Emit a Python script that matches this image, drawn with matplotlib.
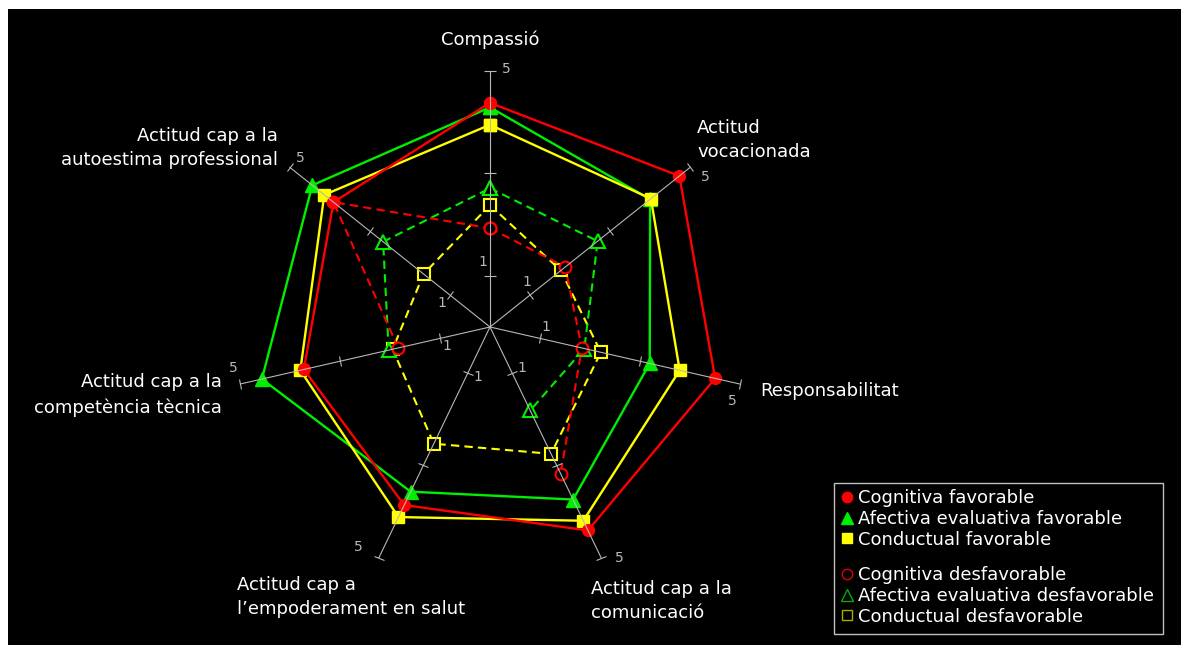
import numpy as np
import matplotlib
matplotlib.use("Agg")
import matplotlib.pyplot as plt
from matplotlib.lines import Line2D
from matplotlib.markers import MarkerStyle
from matplotlib.transforms import Affine2D
from matplotlib.patches import Rectangle

nan = np.nan

# ---------------- data ----------------
categories = [
    "Compassió",
    "Actitud\nvocacionada",
    "Responsabilitat",
    "Actitud cap a la\ncomunicació",
    "Actitud cap a\nl’empoderament en salut",
    "Actitud cap a la\ncompetència tècnica",
    "Actitud cap a la\nautoestima professional",
]

cognitiva_favorable = [4.38, 4.73, 4.51, 4.41, 3.86, 3.73, 3.91]
afectiva_favorable = [4.29, 4.00, 3.20, 3.74, 3.57, 4.57, 4.44]
conductual_favorable = [3.95, 4.02, 3.80, 4.20, 4.12, 3.80, 4.14]
cognitiva_desfavorable = [1.93, 1.88, 1.84, 3.18, nan, 1.84, 3.91]
afectiva_desfavorable = [2.71, 2.69, 1.89, 1.81, nan, 2.03, 2.67]
conductual_desfavorable = [2.38, 1.77, 2.22, 2.75, 2.53, 1.95, 1.66]

series_labels = [
    "Cognitiva favorable",
    "Afectiva evaluativa favorable",
    "Conductual favorable",
    "Cognitiva desfavorable",
    "Afectiva evaluativa desfavorable",
    "Conductual desfavorable",
]

axis_ticks = [1, 3, 5]
axis_tick_labels = ["1", "5"]
r_max = 5

# ---------------- styles / layout ----------------
W, H = 1181, 645
RED = "#ff0000"
GREEN = "#00ee00"
YELLOW = "#ffff00"
GRAY = "#b8b8b8"

fig = plt.figure(figsize=(W / 100, H / 100), dpi=100, facecolor="white")
fig.add_artist(Rectangle((8 / W, 0), 1 - 8 / W, 1 - 9 / H, transform=fig.transFigure,
                         facecolor="black", edgecolor="none", zorder=-10))

cx, cy, R = 490, 327, 256
ax = fig.add_axes([(cx - R) / W, (H - cy - R) / H, 2 * R / W, 2 * R / H], projection="polar")
ax.set_facecolor("none")
ax.set_theta_offset(np.pi / 2)
ax.set_theta_direction(-1)
ax.set_ylim(0, r_max)
ax.set_axis_off()

n = len(categories)
theta = np.arange(n) * 2 * np.pi / n
theta_c = np.append(theta, theta[0])


def closed(v):
    return np.append(np.asarray(v, float), v[0])


# desfavorable (dashed, open markers)
dash_kw = dict(lw=1.5, ls=(0, (4, 2.5)), clip_on=False, mfc="black", mew=1.5)
ax.plot(theta_c, closed(conductual_desfavorable), color=YELLOW, marker="s", ms=8, zorder=3, **dash_kw)
ax.plot(theta_c, closed(afectiva_desfavorable), color=GREEN, marker="^", ms=10, zorder=4, **dash_kw)
ax.plot(theta_c, closed(cognitiva_desfavorable), color=RED, marker="o", ms=8.5, zorder=5, **dash_kw)

# favorable (solid, filled markers)
sol_kw = dict(lw=1.7, ls="-", clip_on=False)
ax.plot(theta_c, closed(afectiva_favorable), color=GREEN, marker="^", ms=9.5, zorder=6, **sol_kw)
ax.plot(theta_c, closed(conductual_favorable), color=YELLOW, marker="s", ms=8, zorder=7, **sol_kw)
ax.plot(theta_c, closed(cognitiva_favorable), color=RED, marker="o", ms=8.5, zorder=8, **sol_kw)

# radial axes with tick marks (drawn on top)
for k, t in enumerate(theta):
    ax.plot([t, t], [0, r_max], color=GRAY, lw=0.8, zorder=10, clip_on=False)
    phi = 90 - k * 360 / n
    mk = MarkerStyle("|", transform=Affine2D().rotate_deg(phi))
    ax.plot([t] * len(axis_ticks), axis_ticks, ls="none", marker=mk, ms=8, mew=0.8,
            color=GRAY, zorder=10, clip_on=False)

# "1" and "5" labels (offsets in pixels)
one_offsets = [(-7, 14), (-3, 13), (6, 11), (10, 5), (10, -4), (7, -8), (-8, -8)]
five_offsets = [(16, 2), (15, -10), (-7, -17), (18, 0), (-21, 11), (-7, 16), (10, 9)]
for k, t in enumerate(theta):
    ax.annotate(axis_tick_labels[0], xy=(t, axis_ticks[0]), xytext=one_offsets[k],
                textcoords="offset pixels", color=GRAY, fontsize=10, ha="center", va="center",
                zorder=11, annotation_clip=False)
    ax.annotate(axis_tick_labels[1], xy=(t, axis_ticks[-1]), xytext=five_offsets[k],
                textcoords="offset pixels", color=GRAY, fontsize=10, ha="center", va="center",
                zorder=11, annotation_clip=False)

# category labels
label_pos = [
    (490, 40, "center"),
    (697, 140, "left"),
    (760, 391, "left"),
    (591, 601, "left"),
    (237, 597, "left"),
    (222, 395, "right"),
    (278, 148, "right"),
]
for text, (x, y, ha) in zip(categories, label_pos):
    fig.text(x / W, 1 - y / H, text, color="white", fontsize=13, ha=ha, va="center",
             multialignment=ha, linespacing=1.45)

# legend
fav_handles = [
    Line2D([], [], ls="none", marker="o", color=RED, ms=7.5),
    Line2D([], [], ls="none", marker="^", color=GREEN, ms=8),
    Line2D([], [], ls="none", marker="s", color=YELLOW, ms=6.5),
]
desf_handles = [
    Line2D([], [], ls="none", marker="o", mfc="none", mec="#dd0000", mew=1, ms=7.5),
    Line2D([], [], ls="none", marker="^", mfc="none", mec="#00b000", mew=1, ms=8),
    Line2D([], [], ls="none", marker="s", mfc="none", mec="#aaaa00", mew=1, ms=6.5),
]
leg_kw = dict(loc="upper left", frameon=False, fontsize=13, labelcolor="white",
              handlelength=0.6, handletextpad=0.3, labelspacing=0.16,
              borderpad=0, borderaxespad=0)
fig.legend(fav_handles, series_labels[:3], bbox_to_anchor=(842 / W, 1 - 489 / H), **leg_kw)
fig.legend(desf_handles, series_labels[3:], bbox_to_anchor=(842 / W, 1 - 566 / H), **leg_kw)
fig.add_artist(Rectangle((834 / W, 1 - 634 / H), (1163 - 834) / W, (634 - 483) / H,
                         transform=fig.transFigure, facecolor="none", edgecolor="#c0c0c0", lw=1))

fig.savefig("out.png", dpi=100, facecolor=fig.get_facecolor())
